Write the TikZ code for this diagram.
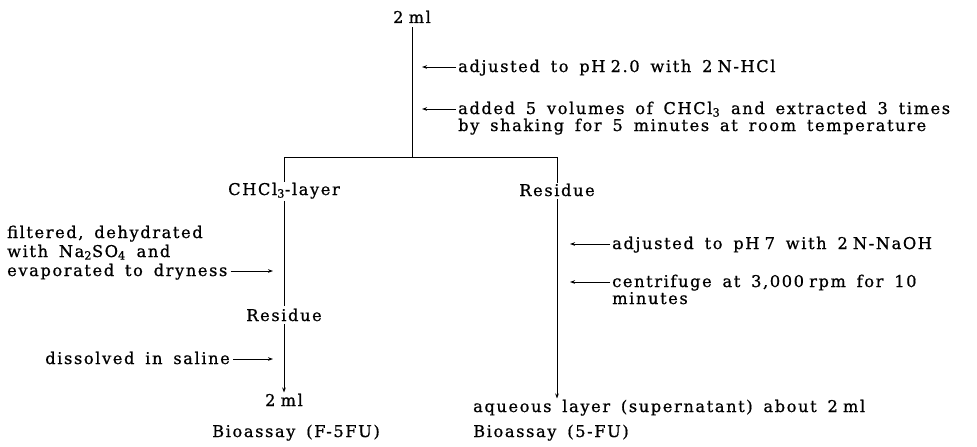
\documentclass[tikz,border=0pt]{standalone}
\usepackage{fontspec}
\setmainfont{DejaVu Serif}[LetterSpace=10,WordSpace=1.6,FakeBold=0.8]
\usetikzlibrary{arrows.meta}
\newcommand{\tsp}{\hspace{0.32em}}
\begin{document}
\begin{tikzpicture}[x=1pt,y=-1pt,
  lbl/.style={inner sep=0pt, font=\fontsize{16.2}{18}\selectfont},
  ln/.style={line width=1pt},
  arr/.style={line width=1pt, -{Stealth[length=5pt,width=3.6pt]}}]
\useasboundingbox (0,0) rectangle (977,447);

% top
\node[lbl, anchor=base] (top) at (412,23) {2\tsp ml};
\coordinate (split) at (412,157);
\coordinate (hl) at (284,157);
\coordinate (hr) at (557,157);
\draw[ln] (top.south) ++(0,4) -- (split);
\draw[ln] (hl) -- (hr);

\node[lbl, anchor=base west] (adj2) at (458,72) {adjusted to pH\tsp 2.0 with 2\tsp N-HCl};
\node[lbl, anchor=base west] (add1) at (458,114) {added 5 volumes of CHCl\textsubscript{3} and extracted 3 times};
\node[lbl, anchor=base west] (add2) at (458,131) {by shaking for 5 minutes at room temperature};
\coordinate (adj2t) at (422,67);
\coordinate (add1t) at (422,109);
\draw[arr] (adj2.west |- adj2t) ++(-2,0) -- (adj2t);
\draw[arr] (add1.west |- add1t) ++(-2,0) -- (add1t);

% branches
\node[lbl, anchor=base] (chcl) at (284,195) {CHCl\textsubscript{3}-layer};
\node[lbl, anchor=base] (resR) at (557,196) {Residue};
\draw[ln] (hl) -- (hl |- chcl.north);
\draw[ln] (hr) -- (hr |- resR.north);

% left column
\node[lbl, anchor=base] (resL) at (284,321) {Residue};
\draw[ln] (chcl.south) ++(0,2) -- ([yshift=2pt]resL.north);
\node[lbl, anchor=base west] (filt1) at (7,238) {filtered, dehydrated};
\node[lbl, anchor=base west] (filt2) at (7,257) {with Na\textsubscript{2}SO\textsubscript{4} and};
\node[lbl, anchor=base west] (filt3) at (7,276) {evaporated to dryness};
\coordinate (filtt) at (273,271);
\draw[arr] (filt3.east |- filtt) ++(3,0) -- (filtt);

\node[lbl, anchor=base] (mlL) at (284,406) {2\tsp ml};
\draw[arr] (resL.south) ++(0,3) -- ([yshift=1pt]mlL.north);
\node[lbl, anchor=base east] (diss) at (230,364) {dissolved in saline};
\coordinate (disst) at (273,359);
\draw[arr] (diss.east |- disst) ++(3,0) -- (disst);
\node[lbl, anchor=base] (bioL) at (296,437) {Bioassay (F-5FU)};

% right column
\node[lbl, anchor=base west] (aq) at (473,412) {aqueous layer (supernatant) about 2\tsp ml};
\node[lbl, anchor=base west] (bioR) at (473,437) {Bioassay (5-FU)};
\draw[arr] (resR.south) ++(0,3) -- ([yshift=1pt]resR.south |- aq.north);

\node[lbl, anchor=base west] (adj7) at (612,249) {adjusted to pH\tsp 7 with 2\tsp N-NaOH};
\node[lbl, anchor=base west] (cen1) at (612,287) {centrifuge at 3,000\tsp rpm for 10};
\node[lbl, anchor=base west] (cen2) at (612,304) {minutes};
\coordinate (adj7t) at (570,244);
\coordinate (cen1t) at (570,282);
\draw[arr] (adj7.west |- adj7t) ++(-2,0) -- (adj7t);
\draw[arr] (cen1.west |- cen1t) ++(-2,0) -- (cen1t);
\end{tikzpicture}
\end{document}
